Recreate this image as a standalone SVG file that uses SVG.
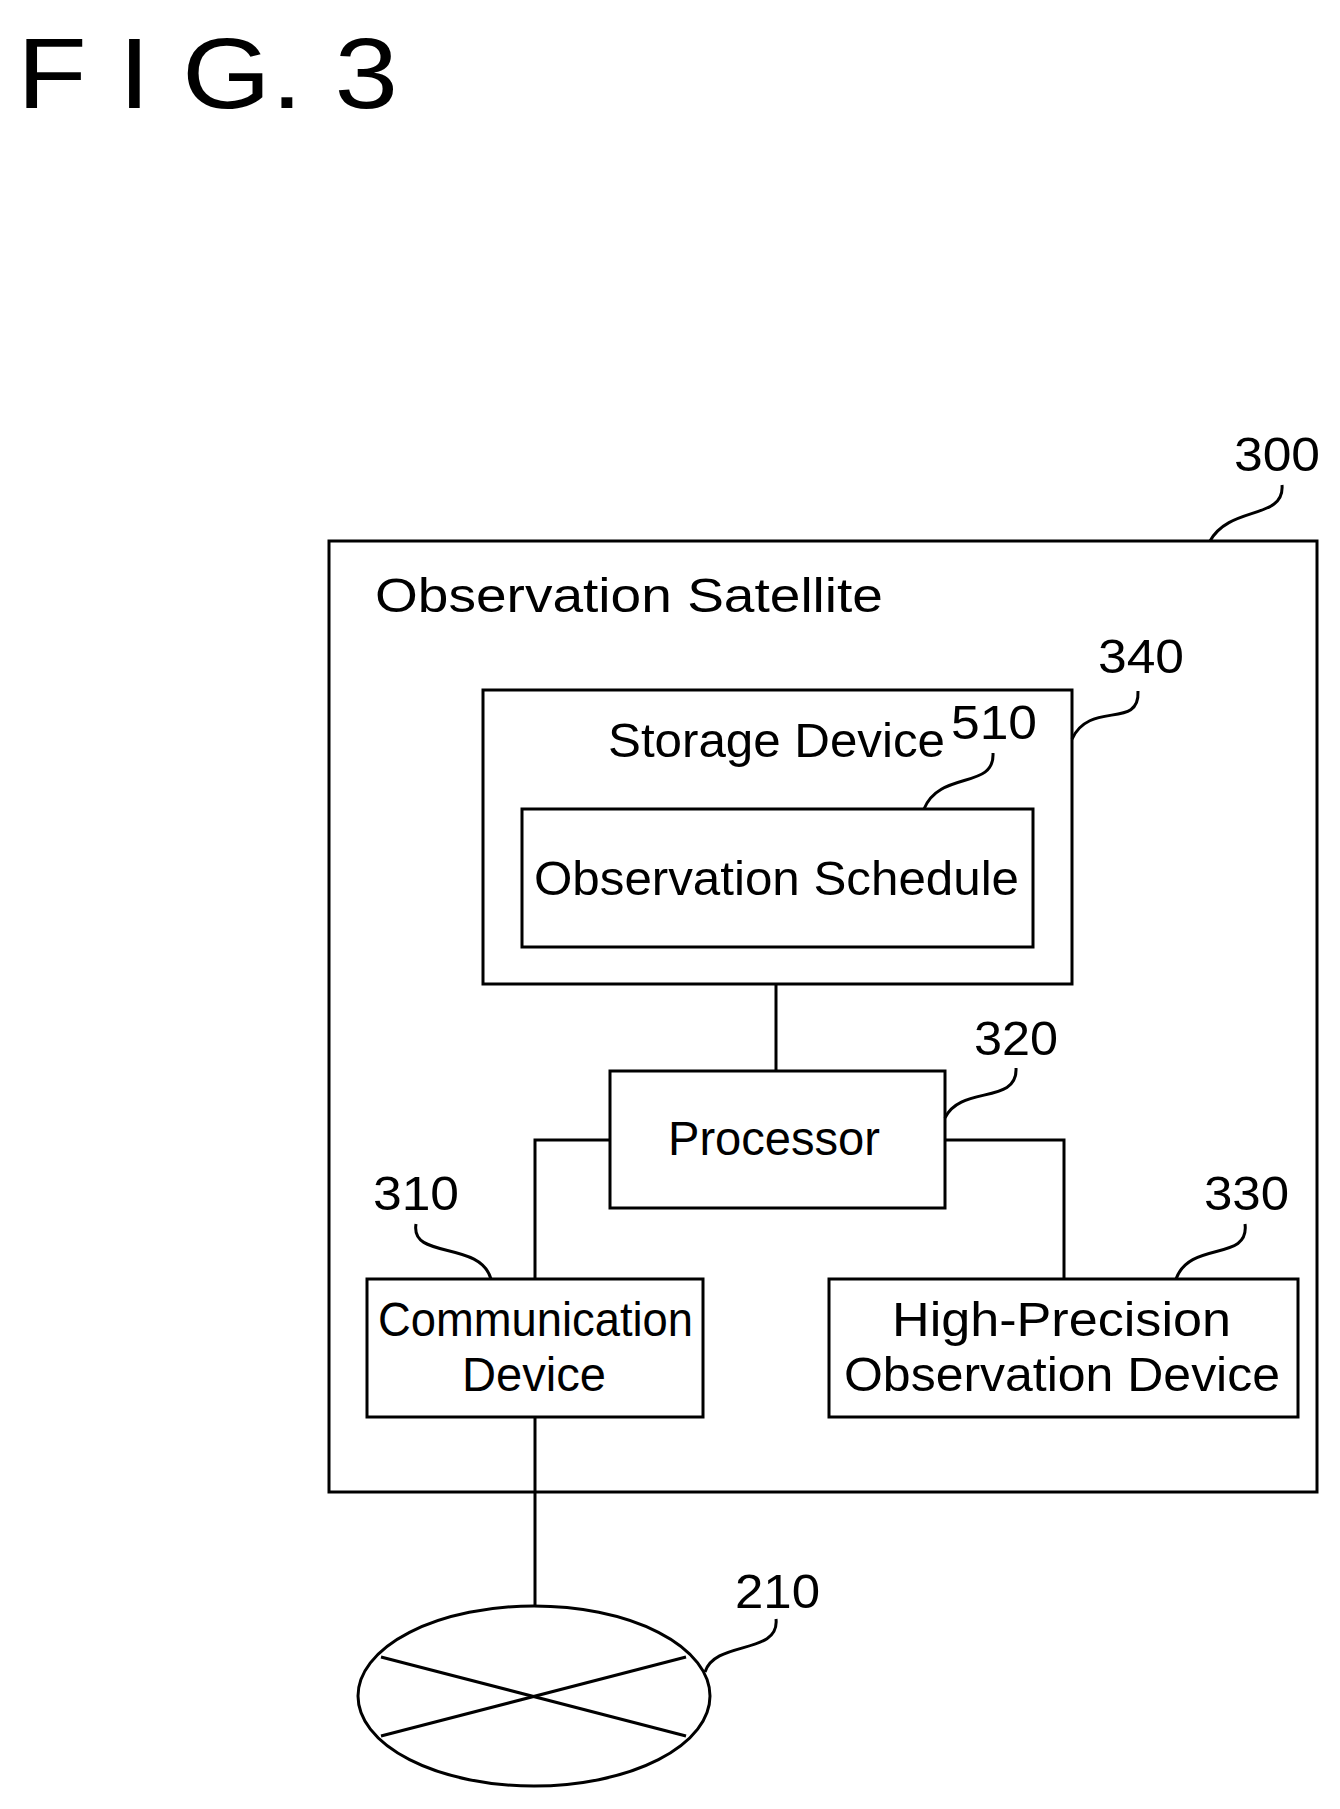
<svg xmlns="http://www.w3.org/2000/svg" width="1340" height="1809" viewBox="0 0 1340 1809">
<style>
rect,ellipse,path,line{fill:none;stroke:#000;stroke-width:3}
text{font-family:"Liberation Sans",Arial,sans-serif;font-size:48px;fill:#000}
</style>
<rect width="1340" height="1809" fill="#fff" style="stroke:none"/>
<text x="17" y="108" style="font-size:100px" textLength="381" lengthAdjust="spacingAndGlyphs">F I G. 3</text>
<g id="n300"><rect x="329" y="541" width="988" height="951"/><text x="375" y="612" textLength="508" lengthAdjust="spacingAndGlyphs">Observation Satellite</text><text x="1234" y="471" textLength="86" lengthAdjust="spacingAndGlyphs">300</text><path d="M1282,485 C1285,520 1230,505 1210,541"/></g>
<g id="n340"><rect x="483" y="690" width="589" height="294"/><text x="608" y="757" textLength="337" lengthAdjust="spacingAndGlyphs">Storage Device</text><text x="1098" y="673" textLength="86" lengthAdjust="spacingAndGlyphs">340</text><path d="M1138,691 C1140,730 1090,700 1072,739"/></g>
<g id="n510"><rect x="522" y="809" width="511" height="138"/><text x="534" y="895" textLength="485" lengthAdjust="spacingAndGlyphs">Observation Schedule</text><text x="951" y="739" textLength="86" lengthAdjust="spacingAndGlyphs">510</text><path d="M993,753 C995,790 940,770 924,809"/></g>
<g id="n320"><rect x="610" y="1071" width="335" height="137"/><text x="668" y="1155" textLength="212" lengthAdjust="spacingAndGlyphs">Processor</text><text x="974" y="1055" textLength="84" lengthAdjust="spacingAndGlyphs">320</text><path d="M1016,1068 C1018,1105 960,1085 945,1118"/></g>
<g id="n310"><rect x="367" y="1279" width="336" height="138"/><text x="378" y="1336" textLength="315" lengthAdjust="spacingAndGlyphs">Communication</text><text x="462" y="1391" textLength="144" lengthAdjust="spacingAndGlyphs">Device</text><text x="373" y="1210" textLength="86" lengthAdjust="spacingAndGlyphs">310</text><path d="M416,1224 C410,1260 480,1240 491,1279"/></g>
<g id="n330"><rect x="829" y="1279" width="469" height="138"/><text x="892" y="1336" textLength="339" lengthAdjust="spacingAndGlyphs">High-Precision</text><text x="844" y="1391" textLength="436" lengthAdjust="spacingAndGlyphs">Observation Device</text><text x="1204" y="1210" textLength="85" lengthAdjust="spacingAndGlyphs">330</text><path d="M1245,1224 C1250,1262 1190,1240 1176,1279"/></g>
<g id="n210"><ellipse cx="534" cy="1696" rx="176" ry="90"/><line x1="381" y1="1657" x2="686" y2="1736"/><line x1="381" y1="1736" x2="686" y2="1657"/><text x="735" y="1608" textLength="85" lengthAdjust="spacingAndGlyphs">210</text><path d="M776,1619 C780,1655 715,1640 705,1672"/></g>
<g id="connectors"><line x1="776" y1="984" x2="776" y2="1071"/><path d="M610,1140 H535 V1279"/><path d="M945,1140 H1064 V1279"/><line x1="535" y1="1417" x2="535" y2="1606"/></g>
</svg>
